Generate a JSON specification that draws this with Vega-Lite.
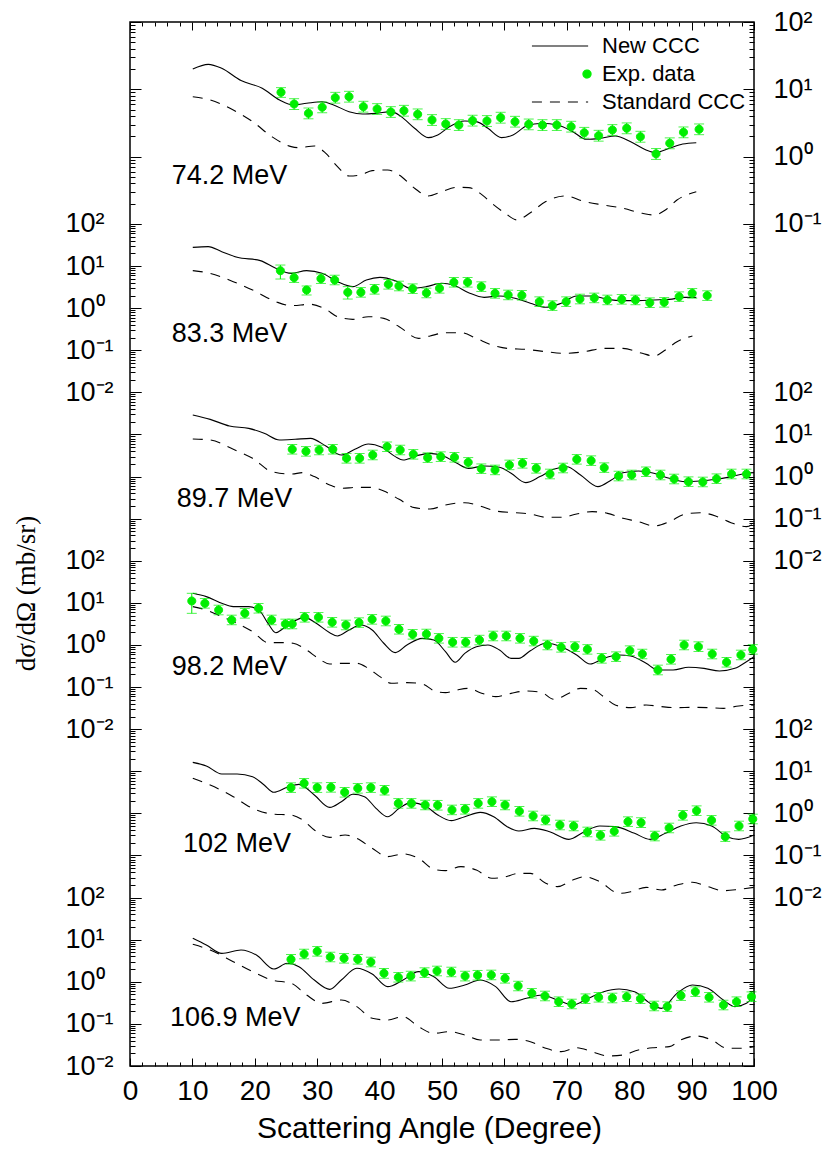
{
"$schema":"https://vega.github.io/schema/vega-lite/v6.json",
"width":624,"height":1044,
"autosize":{"type":"none"},
"padding":{"left":130,"top":22,"right":73,"bottom":83},
"background":"white",
"config":{
 "font":"Liberation Sans",
 "view":{"stroke":"black","strokeWidth":1.5},
 "axis":{"grid":false,"domain":false,"ticks":true,"tickColor":"black","tickWidth":1,"labelColor":"black","labelFont":"Liberation Sans","labelFontSize":27,"titleColor":"black","titleFontWeight":"normal","labelOverlap":false}
},
"datasets":{
"n1":[{"a":10.06,"v":20.0},{"a":12.54,"v":23.5},{"a":14.7,"v":20.5},{"a":17.79,"v":13.5},{"a":21.19,"v":10.4},{"a":23.97,"v":6.95},{"a":26.14,"v":5.85},{"a":28.3,"v":6.2},{"a":30.78,"v":6.55},{"a":32.63,"v":5.85},{"a":35.1,"v":4.66},{"a":37.27,"v":4.3},{"a":39.43,"v":4.4},{"a":41.9,"v":4.66},{"a":43.45,"v":3.93},{"a":45.61,"v":2.64},{"a":47.78,"v":1.92},{"a":49.32,"v":2.1},{"a":51.18,"v":2.79},{"a":53.65,"v":3.39},{"a":55.51,"v":3.31},{"a":57.36,"v":2.64},{"a":59.52,"v":1.92},{"a":61.38,"v":2.1},{"a":63.54,"v":2.85},{"a":66.02,"v":3.13},{"a":68.49,"v":2.95},{"a":70.96,"v":2.35},{"a":73.13,"v":1.81},{"a":75.29,"v":1.87},{"a":77.76,"v":2.03},{"a":80.24,"v":1.67},{"a":82.71,"v":1.26},{"a":84.26,"v":1.15},{"a":86.42,"v":1.33},{"a":88.58,"v":1.54},{"a":90.75,"v":1.61}],
"s1":[{"a":10.06,"v":7.78},{"a":12.85,"v":6.95},{"a":16.55,"v":4.93},{"a":19.65,"v":3.31},{"a":22.74,"v":1.98},{"a":25.83,"v":1.41},{"a":27.07,"v":1.36},{"a":29.54,"v":1.44},{"a":31.39,"v":1.12},{"a":33.25,"v":0.711},{"a":35.1,"v":0.517},{"a":36.96,"v":0.535},{"a":38.81,"v":0.62},{"a":41.29,"v":0.634},{"a":43.14,"v":0.535},{"a":45.61,"v":0.339},{"a":47.78,"v":0.261},{"a":49.94,"v":0.302},{"a":52.41,"v":0.351},{"a":54.27,"v":0.347},{"a":56.12,"v":0.285},{"a":57.98,"v":0.203},{"a":60.14,"v":0.144},{"a":62.0,"v":0.115},{"a":64.16,"v":0.147},{"a":66.63,"v":0.215},{"a":69.72,"v":0.261},{"a":72.82,"v":0.215},{"a":75.91,"v":0.191},{"a":79.0,"v":0.171},{"a":82.09,"v":0.144},{"a":83.95,"v":0.136},{"a":85.8,"v":0.161},{"a":87.66,"v":0.227},{"a":90.75,"v":0.302}],
"e1":[{"a":24.2,"v":9.03,"lo":7.6,"hi":10.6},{"a":26.3,"v":6.05,"lo":5.02,"hi":7.26},{"a":28.6,"v":4.4,"lo":3.65,"hi":5.28},{"a":30.8,"v":5.41,"lo":4.49,"hi":6.49},{"a":32.9,"v":7.52,"lo":6.24,"hi":9.02},{"a":35.1,"v":7.78,"lo":6.46,"hi":9.34},{"a":37.4,"v":5.53,"lo":4.59,"hi":6.64},{"a":39.6,"v":5.11,"lo":4.24,"hi":6.13},{"a":41.8,"v":4.61,"lo":3.83,"hi":5.53},{"a":43.9,"v":4.82,"lo":4.0,"hi":5.78},{"a":46.1,"v":4.26,"lo":3.54,"hi":5.11},{"a":48.4,"v":3.51,"lo":2.91,"hi":4.21},{"a":50.6,"v":3.06,"lo":2.54,"hi":3.67},{"a":52.7,"v":2.95,"lo":2.45,"hi":3.54},{"a":54.9,"v":3.43,"lo":2.85,"hi":4.12},{"a":57.2,"v":3.39,"lo":2.81,"hi":4.07},{"a":59.4,"v":3.8,"lo":3.15,"hi":4.56},{"a":61.7,"v":3.31,"lo":2.75,"hi":3.97},{"a":63.9,"v":3.02,"lo":2.51,"hi":3.62},{"a":66.1,"v":2.95,"lo":2.45,"hi":3.54},{"a":68.4,"v":2.95,"lo":2.45,"hi":3.54},{"a":70.7,"v":2.79,"lo":2.32,"hi":3.35},{"a":72.8,"v":2.27,"lo":1.88,"hi":2.72},{"a":75.1,"v":2.05,"lo":1.7,"hi":2.46},{"a":77.3,"v":2.49,"lo":2.07,"hi":2.99},{"a":79.6,"v":2.64,"lo":2.19,"hi":3.17},{"a":81.8,"v":1.98,"lo":1.64,"hi":2.38},{"a":84.3,"v":1.1,"lo":0.91,"hi":1.32},{"a":86.5,"v":1.58,"lo":1.31,"hi":1.9},{"a":88.7,"v":2.3,"lo":1.91,"hi":2.76},{"a":91.2,"v":2.55,"lo":2.12,"hi":3.06}],
"n2":[{"a":10.06,"v":27.9},{"a":12.54,"v":29.0},{"a":14.7,"v":22.0},{"a":17.17,"v":16.2},{"a":20.88,"v":13.5},{"a":23.36,"v":8.85},{"a":25.83,"v":6.73},{"a":28.3,"v":7.79},{"a":30.78,"v":6.73},{"a":33.25,"v":4.27},{"a":35.72,"v":3.25},{"a":37.88,"v":4.67},{"a":40.05,"v":5.41},{"a":42.52,"v":4.5},{"a":44.99,"v":2.96},{"a":47.47,"v":3.25},{"a":49.94,"v":3.9},{"a":51.8,"v":3.56},{"a":54.27,"v":2.34},{"a":56.74,"v":1.81},{"a":59.22,"v":1.95},{"a":61.69,"v":1.72},{"a":64.16,"v":1.31},{"a":66.63,"v":1.05},{"a":69.11,"v":1.31},{"a":71.58,"v":1.95},{"a":74.05,"v":1.95},{"a":76.53,"v":1.62},{"a":79.0,"v":1.51},{"a":81.47,"v":1.51},{"a":83.95,"v":1.57},{"a":86.42,"v":1.62},{"a":88.89,"v":1.81},{"a":90.75,"v":1.81}],
"s2":[{"a":10.06,"v":7.79},{"a":12.85,"v":6.73},{"a":16.55,"v":4.27},{"a":19.65,"v":2.71},{"a":23.36,"v":1.43},{"a":25.83,"v":1.15},{"a":28.92,"v":1.24},{"a":31.39,"v":0.94},{"a":33.25,"v":0.629},{"a":35.72,"v":0.544},{"a":38.19,"v":0.629},{"a":40.67,"v":0.574},{"a":43.14,"v":0.364},{"a":46.23,"v":0.192},{"a":48.09,"v":0.219},{"a":50.56,"v":0.262},{"a":53.03,"v":0.262},{"a":55.51,"v":0.192},{"a":57.98,"v":0.134},{"a":60.45,"v":0.111},{"a":63.54,"v":0.105},{"a":66.63,"v":0.0928},{"a":69.72,"v":0.0847},{"a":72.82,"v":0.0928},{"a":75.91,"v":0.111},{"a":79.0,"v":0.111},{"a":82.09,"v":0.0847},{"a":83.95,"v":0.0732},{"a":85.8,"v":0.1017},{"a":87.66,"v":0.16},{"a":90.13,"v":0.219}],
"e2":[{"a":24.1,"v":7.79,"lo":4.93,"hi":10.6},{"a":26.3,"v":5.31,"lo":4.09,"hi":6.9},{"a":28.3,"v":2.71,"lo":2.06,"hi":3.37},{"a":30.6,"v":5.03,"lo":3.87,"hi":6.54},{"a":32.8,"v":4.67,"lo":3.6,"hi":6.07},{"a":34.9,"v":2.38,"lo":1.65,"hi":3.25},{"a":37.0,"v":2.38,"lo":1.83,"hi":3.09},{"a":39.2,"v":2.81,"lo":2.16,"hi":3.65},{"a":41.4,"v":3.69,"lo":2.84,"hi":4.8},{"a":43.1,"v":3.37,"lo":2.59,"hi":4.38},{"a":45.3,"v":2.91,"lo":2.24,"hi":3.78},{"a":47.5,"v":2.3,"lo":1.77,"hi":2.99},{"a":49.6,"v":2.96,"lo":2.28,"hi":3.85},{"a":51.9,"v":4.12,"lo":3.17,"hi":5.36},{"a":54.1,"v":4.12,"lo":3.17,"hi":5.36},{"a":56.3,"v":3.25,"lo":2.5,"hi":4.23},{"a":58.5,"v":2.25,"lo":1.73,"hi":2.93},{"a":60.6,"v":2.06,"lo":1.59,"hi":2.68},{"a":62.8,"v":2.02,"lo":1.56,"hi":2.63},{"a":65.6,"v":1.43,"lo":1.1,"hi":1.86},{"a":67.7,"v":1.15,"lo":0.886,"hi":1.5},{"a":69.9,"v":1.43,"lo":1.1,"hi":1.86},{"a":72.1,"v":1.65,"lo":1.27,"hi":2.15},{"a":74.4,"v":1.75,"lo":1.35,"hi":2.28},{"a":76.5,"v":1.57,"lo":1.21,"hi":2.04},{"a":78.8,"v":1.62,"lo":1.25,"hi":2.11},{"a":81.0,"v":1.57,"lo":1.21,"hi":2.04},{"a":83.3,"v":1.35,"lo":1.04,"hi":1.76},{"a":85.6,"v":1.38,"lo":1.06,"hi":1.79},{"a":88.0,"v":1.88,"lo":1.45,"hi":2.44},{"a":90.1,"v":2.25,"lo":1.73,"hi":2.93},{"a":92.5,"v":1.99,"lo":1.53,"hi":2.59}],
"n3":[{"a":10.06,"v":29.0},{"a":12.85,"v":22.9},{"a":15.94,"v":15.9},{"a":19.03,"v":14.0},{"a":21.5,"v":10.7},{"a":23.97,"v":7.4},{"a":26.45,"v":7.68},{"a":28.92,"v":8.11},{"a":31.39,"v":5.33},{"a":33.87,"v":3.26},{"a":36.03,"v":4.45},{"a":38.19,"v":5.95},{"a":40.36,"v":4.95},{"a":42.52,"v":2.98},{"a":43.76,"v":2.48},{"a":45.92,"v":3.14},{"a":48.09,"v":3.57},{"a":50.25,"v":3.09},{"a":52.41,"v":2.07},{"a":54.27,"v":1.57},{"a":56.74,"v":1.79},{"a":59.22,"v":1.66},{"a":61.07,"v":1.2},{"a":63.42,"v":0.718},{"a":65.71,"v":1.0},{"a":67.87,"v":1.49},{"a":70.03,"v":1.72},{"a":72.2,"v":1.09},{"a":74.98,"v":0.577},{"a":77.14,"v":0.83},{"a":79.0,"v":1.24},{"a":81.47,"v":1.36},{"a":83.95,"v":1.2},{"a":86.42,"v":0.909},{"a":88.89,"v":0.758},{"a":91.37,"v":0.787},{"a":93.84,"v":0.862},{"a":96.31,"v":1.0},{"a":98.79,"v":1.2},{"a":100,"v":1.24}],
"s3":[{"a":10.06,"v":7.82},{"a":12.85,"v":7.4},{"a":16.55,"v":4.45},{"a":19.65,"v":2.72},{"a":22.74,"v":1.31},{"a":25.83,"v":1.15},{"a":27.68,"v":1.24},{"a":29.54,"v":1.0},{"a":32.01,"v":0.632},{"a":33.87,"v":0.526},{"a":36.34,"v":0.556},{"a":38.5,"v":0.556},{"a":40.67,"v":0.455},{"a":43.14,"v":0.288},{"a":45.61,"v":0.183},{"a":48.09,"v":0.17},{"a":50.56,"v":0.212},{"a":53.65,"v":0.24},{"a":56.12,"v":0.2},{"a":58.6,"v":0.152},{"a":61.69,"v":0.139},{"a":64.16,"v":0.129},{"a":66.63,"v":0.108},{"a":69.11,"v":0.108},{"a":71.58,"v":0.129},{"a":74.05,"v":0.147},{"a":76.53,"v":0.134},{"a":79.0,"v":0.102},{"a":81.47,"v":0.0851},{"a":83.95,"v":0.0671},{"a":86.42,"v":0.0851},{"a":88.89,"v":0.127},{"a":91.37,"v":0.139},{"a":93.84,"v":0.116},{"a":96.31,"v":0.0805},{"a":98.79,"v":0.0647},{"a":100,"v":0.0777}],
"e3":[{"a":26.0,"v":4.45,"lo":3.43,"hi":5.79},{"a":28.2,"v":3.98,"lo":3.06,"hi":5.17},{"a":30.3,"v":4.28,"lo":3.3,"hi":5.56},{"a":32.5,"v":4.45,"lo":3.43,"hi":5.79},{"a":34.7,"v":2.72,"lo":2.09,"hi":3.54},{"a":36.8,"v":2.72,"lo":2.09,"hi":3.54},{"a":38.9,"v":3.26,"lo":2.51,"hi":4.24},{"a":41.2,"v":5.14,"lo":3.96,"hi":6.68},{"a":43.3,"v":4.28,"lo":3.3,"hi":5.56},{"a":45.4,"v":3.38,"lo":2.6,"hi":4.39},{"a":47.7,"v":2.82,"lo":2.17,"hi":3.67},{"a":49.8,"v":2.98,"lo":2.29,"hi":3.87},{"a":52.0,"v":2.87,"lo":2.21,"hi":3.73},{"a":54.2,"v":2.18,"lo":1.68,"hi":2.83},{"a":56.3,"v":1.54,"lo":1.19,"hi":2.0},{"a":58.5,"v":1.44,"lo":1.11,"hi":1.87},{"a":60.8,"v":1.89,"lo":1.46,"hi":2.46},{"a":62.9,"v":2.07,"lo":1.59,"hi":2.69},{"a":65.1,"v":1.57,"lo":1.21,"hi":2.04},{"a":67.3,"v":1.15,"lo":0.886,"hi":1.5},{"a":69.4,"v":1.6,"lo":1.23,"hi":2.08},{"a":71.6,"v":2.57,"lo":1.98,"hi":3.34},{"a":73.9,"v":2.39,"lo":1.84,"hi":3.11},{"a":76.0,"v":1.63,"lo":1.26,"hi":2.12},{"a":78.3,"v":1.03,"lo":0.793,"hi":1.34},{"a":80.4,"v":1.09,"lo":0.839,"hi":1.42},{"a":82.7,"v":1.31,"lo":1.01,"hi":1.7},{"a":85.0,"v":1.09,"lo":0.839,"hi":1.42},{"a":87.2,"v":0.877,"lo":0.675,"hi":1.14},{"a":89.5,"v":0.758,"lo":0.584,"hi":0.985},{"a":91.8,"v":0.745,"lo":0.574,"hi":0.969},{"a":94.0,"v":0.893,"lo":0.688,"hi":1.16},{"a":96.4,"v":1.15,"lo":0.886,"hi":1.5},{"a":98.8,"v":1.15,"lo":0.886,"hi":1.5}],
"n4":[{"a":10.06,"v":16.9},{"a":12.23,"v":14.1},{"a":14.7,"v":9.77},{"a":16.55,"v":8.15},{"a":19.03,"v":8.15},{"a":20.88,"v":6.19},{"a":22.12,"v":3.27},{"a":23.36,"v":1.96},{"a":24.59,"v":2.49},{"a":26.14,"v":3.58},{"a":27.99,"v":4.54},{"a":29.85,"v":3.27},{"a":32.01,"v":1.96},{"a":33.25,"v":1.64},{"a":35.1,"v":2.27},{"a":36.96,"v":2.98},{"a":38.81,"v":2.27},{"a":40.67,"v":1.1},{"a":42.52,"v":0.658},{"a":44.38,"v":1.0},{"a":46.85,"v":1.44},{"a":48.7,"v":1.31},{"a":50.56,"v":0.695},{"a":52.11,"v":0.388},{"a":53.65,"v":0.634},{"a":55.51,"v":0.912},{"a":57.36,"v":1.0},{"a":59.22,"v":0.76},{"a":61.07,"v":0.482},{"a":62.31,"v":0.482},{"a":64.16,"v":0.733},{"a":66.63,"v":1.1},{"a":69.11,"v":0.912},{"a":71.58,"v":0.579},{"a":73.74,"v":0.354},{"a":75.91,"v":0.482},{"a":78.38,"v":0.579},{"a":80.24,"v":0.548},{"a":82.71,"v":0.367},{"a":84.57,"v":0.255},{"a":87.04,"v":0.255},{"a":89.51,"v":0.295},{"a":91.98,"v":0.279},{"a":94.46,"v":0.241},{"a":96.93,"v":0.279},{"a":98.79,"v":0.402},{"a":100,"v":0.528}],
"s4":[{"a":10.06,"v":8.15},{"a":12.23,"v":6.78},{"a":14.7,"v":4.71},{"a":17.17,"v":3.27},{"a":19.65,"v":2.07},{"a":22.12,"v":1.14},{"a":23.97,"v":1.14},{"a":26.14,"v":1.1},{"a":28.3,"v":0.76},{"a":30.16,"v":0.482},{"a":32.01,"v":0.354},{"a":33.87,"v":0.367},{"a":36.34,"v":0.367},{"a":38.19,"v":0.279},{"a":40.05,"v":0.177},{"a":41.9,"v":0.123},{"a":44.38,"v":0.128},{"a":46.85,"v":0.119},{"a":48.7,"v":0.0823},{"a":50.56,"v":0.0738},{"a":52.41,"v":0.0853},{"a":54.27,"v":0.0935},{"a":56.12,"v":0.0738},{"a":58.6,"v":0.0593},{"a":61.07,"v":0.0711},{"a":63.54,"v":0.0809},{"a":66.02,"v":0.0738},{"a":67.87,"v":0.0513},{"a":70.34,"v":0.0711},{"a":72.2,"v":0.0935},{"a":74.05,"v":0.0885},{"a":75.91,"v":0.0593},{"a":77.76,"v":0.0376},{"a":80.24,"v":0.0325},{"a":82.71,"v":0.0376},{"a":85.18,"v":0.0343},{"a":87.66,"v":0.0325},{"a":90.13,"v":0.0331},{"a":92.6,"v":0.0325},{"a":95.08,"v":0.0313},{"a":97.55,"v":0.0356},{"a":100,"v":0.0376}],
"e4":[{"a":9.9,"v":11.1,"lo":5.65,"hi":16.9},{"a":12.0,"v":9.77,"lo":7.52,"hi":12.7},{"a":14.2,"v":6.78,"lo":5.22,"hi":8.81},{"a":16.3,"v":3.93,"lo":3.03,"hi":5.11},{"a":18.4,"v":5.65,"lo":4.35,"hi":7.35},{"a":20.6,"v":7.43,"lo":5.72,"hi":9.66},{"a":22.7,"v":3.93,"lo":3.03,"hi":5.11},{"a":24.9,"v":3.16,"lo":2.43,"hi":4.11},{"a":26.0,"v":3.16,"lo":2.43,"hi":4.11},{"a":28.0,"v":4.54,"lo":3.5,"hi":5.9},{"a":30.2,"v":4.54,"lo":3.5,"hi":5.9},{"a":32.4,"v":3.46,"lo":2.66,"hi":4.5},{"a":34.6,"v":2.99,"lo":2.3,"hi":3.89},{"a":36.7,"v":3.4,"lo":2.62,"hi":4.42},{"a":38.8,"v":4.07,"lo":3.13,"hi":5.29},{"a":41.0,"v":3.72,"lo":2.86,"hi":4.84},{"a":43.1,"v":2.36,"lo":1.82,"hi":3.07},{"a":45.3,"v":1.79,"lo":1.38,"hi":2.33},{"a":47.5,"v":1.82,"lo":1.4,"hi":2.37},{"a":49.5,"v":1.44,"lo":1.11,"hi":1.87},{"a":51.7,"v":1.16,"lo":0.893,"hi":1.51},{"a":53.8,"v":1.16,"lo":0.893,"hi":1.51},{"a":56.0,"v":1.31,"lo":1.01,"hi":1.7},{"a":58.2,"v":1.64,"lo":1.26,"hi":2.13},{"a":60.3,"v":1.64,"lo":1.26,"hi":2.13},{"a":62.5,"v":1.44,"lo":1.11,"hi":1.87},{"a":64.7,"v":1.24,"lo":0.955,"hi":1.61},{"a":66.9,"v":1.0,"lo":0.77,"hi":1.3},{"a":69.1,"v":0.881,"lo":0.678,"hi":1.15},{"a":71.3,"v":0.912,"lo":0.702,"hi":1.19},{"a":73.3,"v":0.788,"lo":0.607,"hi":1.02},{"a":75.6,"v":0.482,"lo":0.371,"hi":0.627},{"a":77.9,"v":0.528,"lo":0.407,"hi":0.686},{"a":80.1,"v":0.733,"lo":0.564,"hi":0.953},{"a":82.1,"v":0.611,"lo":0.47,"hi":0.794},{"a":84.6,"v":0.255,"lo":0.196,"hi":0.332},{"a":86.7,"v":0.457,"lo":0.352,"hi":0.594},{"a":88.8,"v":1.0,"lo":0.77,"hi":1.3},{"a":91.1,"v":0.912,"lo":0.702,"hi":1.19},{"a":93.3,"v":0.611,"lo":0.47,"hi":0.794},{"a":95.6,"v":0.388,"lo":0.299,"hi":0.504},{"a":97.9,"v":0.579,"lo":0.446,"hi":0.753},{"a":99.8,"v":0.788,"lo":0.607,"hi":1.02}],
"n5":[{"a":10.06,"v":16.3},{"a":12.23,"v":13.4},{"a":14.7,"v":8.63},{"a":17.17,"v":8.63},{"a":19.65,"v":7.46},{"a":21.5,"v":4.73},{"a":23.05,"v":3.17},{"a":25.21,"v":4.16},{"a":27.07,"v":4.9},{"a":29.54,"v":2.74},{"a":32.01,"v":1.39},{"a":33.87,"v":1.9},{"a":35.72,"v":2.84},{"a":37.58,"v":2.5},{"a":39.43,"v":1.32},{"a":41.29,"v":0.835},{"a":43.14,"v":1.32},{"a":44.99,"v":1.8},{"a":47.47,"v":1.45},{"a":49.32,"v":0.916},{"a":51.49,"v":0.672},{"a":53.65,"v":0.835},{"a":56.12,"v":1.06},{"a":58.29,"v":0.835},{"a":60.45,"v":0.484},{"a":62.31,"v":0.382},{"a":64.78,"v":0.442},{"a":67.25,"v":0.368},{"a":70.34,"v":0.242},{"a":72.82,"v":0.368},{"a":75.29,"v":0.502},{"a":77.76,"v":0.484},{"a":80.86,"v":0.336},{"a":83.33,"v":0.242},{"a":85.8,"v":0.336},{"a":88.27,"v":0.502},{"a":90.75,"v":0.602},{"a":93.22,"v":0.502},{"a":95.69,"v":0.28},{"a":97.55,"v":0.242},{"a":100,"v":0.307}],
"s5":[{"a":10.06,"v":6.81},{"a":12.85,"v":4.73},{"a":16.55,"v":2.5},{"a":19.65,"v":1.32},{"a":22.74,"v":0.968},{"a":25.83,"v":0.916},{"a":27.68,"v":0.697},{"a":29.54,"v":0.403},{"a":32.01,"v":0.27},{"a":34.48,"v":0.307},{"a":36.34,"v":0.256},{"a":38.81,"v":0.148},{"a":41.29,"v":0.0938},{"a":43.76,"v":0.109},{"a":46.23,"v":0.0857},{"a":48.7,"v":0.047},{"a":50.56,"v":0.0437},{"a":53.03,"v":0.0543},{"a":55.51,"v":0.0453},{"a":57.98,"v":0.0287},{"a":59.83,"v":0.0303},{"a":62.31,"v":0.0377},{"a":64.16,"v":0.0377},{"a":66.63,"v":0.0218},{"a":68.49,"v":0.0182},{"a":70.96,"v":0.0262},{"a":72.82,"v":0.0314},{"a":75.29,"v":0.0239},{"a":78.38,"v":0.0126},{"a":80.24,"v":0.0138},{"a":82.71,"v":0.0175},{"a":85.18,"v":0.0152},{"a":87.66,"v":0.0199},{"a":90.13,"v":0.0231},{"a":92.6,"v":0.0182},{"a":95.08,"v":0.0146},{"a":97.55,"v":0.0157},{"a":100,"v":0.0175}],
"e5":[{"a":25.8,"v":4.09,"lo":3.15,"hi":5.32},{"a":27.9,"v":5.18,"lo":3.99,"hi":6.73},{"a":30.0,"v":4.09,"lo":3.15,"hi":5.32},{"a":32.2,"v":4.16,"lo":3.2,"hi":5.41},{"a":34.4,"v":3.17,"lo":2.44,"hi":4.12},{"a":36.5,"v":3.94,"lo":3.03,"hi":5.12},{"a":38.6,"v":4.09,"lo":3.15,"hi":5.32},{"a":40.8,"v":3.53,"lo":2.72,"hi":4.59},{"a":43.0,"v":1.73,"lo":1.33,"hi":2.25},{"a":45.1,"v":1.73,"lo":1.33,"hi":2.25},{"a":47.3,"v":1.58,"lo":1.22,"hi":2.05},{"a":49.3,"v":1.56,"lo":1.2,"hi":2.03},{"a":51.6,"v":1.21,"lo":0.932,"hi":1.57},{"a":53.7,"v":1.25,"lo":0.963,"hi":1.63},{"a":55.8,"v":1.73,"lo":1.33,"hi":2.25},{"a":58.0,"v":1.9,"lo":1.46,"hi":2.47},{"a":60.1,"v":1.58,"lo":1.22,"hi":2.05},{"a":62.4,"v":1.12,"lo":0.862,"hi":1.46},{"a":64.6,"v":0.867,"lo":0.668,"hi":1.13},{"a":66.6,"v":0.697,"lo":0.537,"hi":0.906},{"a":68.9,"v":0.53,"lo":0.408,"hi":0.689},{"a":71.1,"v":0.502,"lo":0.387,"hi":0.653},{"a":73.3,"v":0.362,"lo":0.279,"hi":0.471},{"a":75.4,"v":0.301,"lo":0.232,"hi":0.391},{"a":77.6,"v":0.375,"lo":0.289,"hi":0.488},{"a":79.8,"v":0.637,"lo":0.49,"hi":0.828},{"a":81.9,"v":0.602,"lo":0.464,"hi":0.783},{"a":84.1,"v":0.29,"lo":0.223,"hi":0.377},{"a":86.4,"v":0.45,"lo":0.347,"hi":0.585},{"a":88.6,"v":0.899,"lo":0.692,"hi":1.17},{"a":90.8,"v":1.16,"lo":0.893,"hi":1.51},{"a":93.2,"v":0.684,"lo":0.527,"hi":0.889},{"a":95.4,"v":0.28,"lo":0.216,"hi":0.364},{"a":97.6,"v":0.502,"lo":0.387,"hi":0.653},{"a":99.8,"v":0.736,"lo":0.567,"hi":0.957}],
"n6":[{"a":10.06,"v":10.8},{"a":12.23,"v":7.48},{"a":14.7,"v":4.74},{"a":17.79,"v":5.69},{"a":20.26,"v":4.33},{"a":23.05,"v":2.01},{"a":25.21,"v":2.75},{"a":27.07,"v":2.29},{"a":29.54,"v":1.1},{"a":32.01,"v":0.662},{"a":33.87,"v":1.1},{"a":36.34,"v":2.09},{"a":38.81,"v":1.53},{"a":41.29,"v":0.766},{"a":43.76,"v":1.1},{"a":46.23,"v":1.74},{"a":48.7,"v":1.32},{"a":51.18,"v":0.7},{"a":53.65,"v":0.839},{"a":56.12,"v":1.1},{"a":58.6,"v":0.766},{"a":61.07,"v":0.337},{"a":63.54,"v":0.405},{"a":66.02,"v":0.486},{"a":68.49,"v":0.37},{"a":70.96,"v":0.281},{"a":73.44,"v":0.405},{"a":75.91,"v":0.583},{"a":78.38,"v":0.675},{"a":80.86,"v":0.583},{"a":83.33,"v":0.308},{"a":85.18,"v":0.234},{"a":87.66,"v":0.532},{"a":90.13,"v":0.839},{"a":92.6,"v":0.7},{"a":95.08,"v":0.37},{"a":96.93,"v":0.257},{"a":98.79,"v":0.308},{"a":100,"v":0.486}],
"s6":[{"a":10.06,"v":7.76},{"a":12.85,"v":5.69},{"a":16.55,"v":3.01},{"a":19.65,"v":1.74},{"a":22.74,"v":1.1},{"a":25.83,"v":0.92},{"a":28.3,"v":0.486},{"a":30.78,"v":0.308},{"a":33.87,"v":0.37},{"a":36.34,"v":0.257},{"a":38.81,"v":0.136},{"a":41.29,"v":0.124},{"a":43.76,"v":0.149},{"a":46.23,"v":0.086},{"a":48.7,"v":0.0597},{"a":51.18,"v":0.0654},{"a":53.65,"v":0.0545},{"a":56.12,"v":0.0415},{"a":59.22,"v":0.0415},{"a":61.69,"v":0.043},{"a":64.16,"v":0.0378},{"a":66.63,"v":0.0263},{"a":69.11,"v":0.0219},{"a":71.58,"v":0.0272},{"a":74.05,"v":0.0219},{"a":76.53,"v":0.0173},{"a":79.0,"v":0.0182},{"a":81.47,"v":0.024},{"a":83.95,"v":0.0272},{"a":86.42,"v":0.0288},{"a":88.27,"v":0.0415},{"a":90.75,"v":0.0516},{"a":93.22,"v":0.0415},{"a":95.69,"v":0.0263},{"a":98.17,"v":0.0263},{"a":100,"v":0.0288}],
"e6":[{"a":25.8,"v":3.42,"lo":2.63,"hi":4.45},{"a":27.9,"v":4.57,"lo":3.52,"hi":5.94},{"a":30.0,"v":5.29,"lo":4.07,"hi":6.88},{"a":32.1,"v":3.88,"lo":2.99,"hi":5.04},{"a":34.3,"v":3.61,"lo":2.78,"hi":4.69},{"a":36.5,"v":3.42,"lo":2.63,"hi":4.45},{"a":38.6,"v":2.95,"lo":2.27,"hi":3.84},{"a":40.7,"v":1.59,"lo":1.22,"hi":2.07},{"a":43.0,"v":1.28,"lo":0.986,"hi":1.66},{"a":45.0,"v":1.37,"lo":1.05,"hi":1.78},{"a":47.2,"v":1.65,"lo":1.27,"hi":2.15},{"a":49.2,"v":1.81,"lo":1.39,"hi":2.35},{"a":51.5,"v":1.71,"lo":1.32,"hi":2.22},{"a":53.7,"v":1.37,"lo":1.05,"hi":1.78},{"a":55.7,"v":1.43,"lo":1.1,"hi":1.86},{"a":57.9,"v":1.45,"lo":1.12,"hi":1.89},{"a":60.1,"v":1.21,"lo":0.932,"hi":1.57},{"a":62.2,"v":0.795,"lo":0.612,"hi":1.03},{"a":64.4,"v":0.532,"lo":0.41,"hi":0.692},{"a":66.5,"v":0.46,"lo":0.354,"hi":0.598},{"a":68.7,"v":0.337,"lo":0.259,"hi":0.438},{"a":70.8,"v":0.297,"lo":0.229,"hi":0.386},{"a":73.0,"v":0.397,"lo":0.306,"hi":0.516},{"a":75.1,"v":0.428,"lo":0.33,"hi":0.556},{"a":77.3,"v":0.412,"lo":0.317,"hi":0.536},{"a":79.6,"v":0.443,"lo":0.341,"hi":0.576},{"a":81.8,"v":0.397,"lo":0.306,"hi":0.516},{"a":84.0,"v":0.266,"lo":0.205,"hi":0.346},{"a":86.1,"v":0.257,"lo":0.198,"hi":0.334},{"a":88.3,"v":0.469,"lo":0.361,"hi":0.61},{"a":90.6,"v":0.583,"lo":0.449,"hi":0.758},{"a":92.8,"v":0.428,"lo":0.33,"hi":0.556},{"a":95.1,"v":0.281,"lo":0.216,"hi":0.365},{"a":97.2,"v":0.337,"lo":0.259,"hi":0.438},{"a":99.6,"v":0.443,"lo":0.341,"hi":0.576}],
"lab":[{"p":1,"a":6.7,"v":0.516,"t":"74.2 MeV"},{"p":2,"a":6.7,"v":0.24,"t":"83.3 MeV"},{"p":3,"a":7.5,"v":0.294,"t":"89.7 MeV"},{"p":4,"a":6.7,"v":0.305,"t":"98.2 MeV"},{"p":5,"a":8.5,"v":0.1875,"t":"102 MeV"},{"p":6,"a":6.4,"v":0.138,"t":"106.9 MeV"}]
},
"layer":[
{"layer":[
 {"data":{"name":"n1"},"mark":{"type":"line","color":"black","strokeWidth":1.1,"interpolate":"monotone"},
  "encoding":{"x":{"field":"a","type":"quantitative","scale":{"domain":[0,100],"nice":false},"axis":{"orient":"bottom","values":[0,10,20,30,40,50,60,70,80,90,100],"tickSize":-8,"labelPadding":19,"labelFontSize":28,"labelFlush":false,"title":"Scattering Angle (Degree)","titleFontSize":30,"titleX":299,"titleY":71,"titleBaseline":"alphabetic","titleAlign":"center"}},
   "y":{"field":"v","type":"quantitative","scale":{"type":"log","domain":[3.12e-14,100],"nice":false},"axis":{"orient":"left","values":[0.1,1,10,100],"tickSize":-11,"labels":false,"title":null}}}},
 {"data":{"name":"s1"},"mark":{"type":"line","color":"black","strokeWidth":1.1,"strokeDash":[10,8],"interpolate":"monotone"},
  "encoding":{"x":{"field":"a","type":"quantitative","scale":{"domain":[0,100],"nice":false},"axis":{"orient":"bottom","values":[2,4,6,8,12,14,16,18,22,24,26,28,32,34,36,38,42,44,46,48,52,54,56,58,62,64,66,68,72,74,76,78,82,84,86,88,92,94,96,98],"tickSize":-4,"labels":false,"title":null}},
   "y":{"field":"v","type":"quantitative","scale":{"type":"log","domain":[3.12e-14,100],"nice":false},"axis":{"orient":"left","values":[0.2,0.3,0.4,0.5,0.6,0.7,0.8,0.9,2,3,4,5,6,7,8,9,20,30,40,50,60,70,80,90],"tickSize":-5,"labels":false,"title":null}}}},
 {"data":{"name":"e1"},"mark":{"type":"errorbar","color":"#00ee00","ticks":{"size":10}},
  "encoding":{"x":{"field":"a","type":"quantitative","scale":{"domain":[0,100],"nice":false},"axis":null},
   "y":{"field":"lo","type":"quantitative","scale":{"type":"log","domain":[3.12e-14,100],"nice":false},"axis":null},"y2":{"field":"hi"}}},
 {"data":{"name":"e1"},"mark":{"type":"point","filled":true,"opacity":1,"size":125,"strokeWidth":1},
  "encoding":{"x":{"field":"a","type":"quantitative","scale":{"domain":[0,100],"nice":false},"axis":{"orient":"top","values":[0,10,20,30,40,50,60,70,80,90,100],"tickSize":-8,"labels":false,"title":null}},
   "y":{"field":"v","type":"quantitative","scale":{"type":"log","domain":[3.12e-14,100],"nice":false},"axis":{"orient":"right","values":[0.1,1,10,100],"tickSize":-11,"labelPadding":30,"labelExpr":"datum.value > 50 ? '10²' : datum.value > 5 ? '10¹' : datum.value > 0.5 ? '10⁰' : datum.value > 0.05 ? '10⁻¹' : '10⁻²'","title":null}},
   "fill":{"datum":"Exp. data","type":"nominal","scale":{"domain":["New CCC","Exp. data","Standard CCC"],"range":["black","#00ee00","black"]},"legend":{"orient":"none","legendX":446,"legendY":13,"title":null,"labelFont":"Liberation Sans","labelFontSize":22,"labelColor":"black","labelOffset":4,"rowPadding":6,"padding":0,"symbolSize":125,"symbolStrokeWidth":1.2,"labelLimit":300}},
   "stroke":{"datum":"Exp. data","type":"nominal","scale":{"domain":["New CCC","Exp. data","Standard CCC"],"range":["black","#00ee00","black"]}},
   "shape":{"datum":"Exp. data","type":"nominal","scale":{"domain":["New CCC","Exp. data","Standard CCC"],"range":["M-9.85,0H0.2","M0,-0.72A0.72,0.72 0 1,1 0,0.72A0.72,0.72 0 1,1 0,-0.72Z","M-9.85,0H0.2"]}},
   "strokeDash":{"datum":"Exp. data","type":"nominal","scale":{"domain":["New CCC","Exp. data","Standard CCC"],"range":[[1,0],[1,0],[10,8]]}}}},
 {"data":{"name":"lab"},"transform":[{"filter":"datum.p == 1"}],"mark":{"type":"text","align":"left","baseline":"middle","font":"Liberation Sans","fontSize":27,"color":"black"},
  "encoding":{"x":{"field":"a","type":"quantitative","scale":{"domain":[0,100],"nice":false},"axis":{"orient":"top","values":[2,4,6,8,12,14,16,18,22,24,26,28,32,34,36,38,42,44,46,48,52,54,56,58,62,64,66,68,72,74,76,78,82,84,86,88,92,94,96,98],"tickSize":-4,"labels":false,"title":null}},
   "y":{"field":"v","type":"quantitative","scale":{"type":"log","domain":[3.12e-14,100],"nice":false},"axis":{"orient":"right","values":[0.2,0.3,0.4,0.5,0.6,0.7,0.8,0.9,2,3,4,5,6,7,8,9,20,30,40,50,60,70,80,90],"tickSize":-5,"labels":false,"title":null}},
   "text":{"field":"t"}}}
],"resolve":{"axis":{"x":"independent","y":"independent"}}},

{"layer":[
 {"data":{"name":"n2"},"mark":{"type":"line","color":"black","strokeWidth":1.1,"interpolate":"monotone"},
  "encoding":{"x":{"field":"a","type":"quantitative","scale":{"domain":[0,100],"nice":false},"axis":null},
   "y":{"field":"v","type":"quantitative","scale":{"type":"log","domain":[1e-18,6.281e6],"nice":false},"axis":{"orient":"left","values":[0.01,0.1,1,10,100],"tickSize":-11,"labelPadding":76,"labelAlign":"left","labelExpr":"datum.value > 50 ? '10²' : datum.value > 5 ? '10¹' : datum.value > 0.5 ? '10⁰' : datum.value > 0.05 ? '10⁻¹' : '10⁻²'","title":null}}}},
 {"data":{"name":"s2"},"mark":{"type":"line","color":"black","strokeWidth":1.1,"strokeDash":[10,8],"interpolate":"monotone"},
  "encoding":{"x":{"field":"a","type":"quantitative","scale":{"domain":[0,100],"nice":false},"axis":null},
   "y":{"field":"v","type":"quantitative","scale":{"type":"log","domain":[1e-18,6.281e6],"nice":false},"axis":{"orient":"left","values":[0.02,0.03,0.04,0.05,0.06,0.07,0.08,0.09,0.2,0.3,0.4,0.5,0.6,0.7,0.8,0.9,2,3,4,5,6,7,8,9,20,30,40,50,60,70,80,90],"tickSize":-5,"labels":false,"title":null}}}},
 {"data":{"name":"e2"},"mark":{"type":"errorbar","color":"#00ee00","ticks":{"size":10}},
  "encoding":{"x":{"field":"a","type":"quantitative","scale":{"domain":[0,100],"nice":false},"axis":null},
   "y":{"field":"lo","type":"quantitative","scale":{"type":"log","domain":[1e-18,6.281e6],"nice":false},"axis":null},"y2":{"field":"hi"}}},
 {"data":{"name":"e2"},"mark":{"type":"point","filled":true,"opacity":1,"size":125,"strokeWidth":1},
  "encoding":{"x":{"field":"a","type":"quantitative","scale":{"domain":[0,100],"nice":false},"axis":null},
   "y":{"field":"v","type":"quantitative","scale":{"type":"log","domain":[1e-18,6.281e6],"nice":false},"axis":{"orient":"right","values":[0.01,0.1,1,10,100],"tickSize":-11,"labels":false,"title":null}},
   "fill":{"datum":"Exp. data","type":"nominal"},
   "stroke":{"datum":"Exp. data","type":"nominal"},
   "shape":{"datum":"Exp. data","type":"nominal"},
   "strokeDash":{"datum":"Exp. data","type":"nominal"}}},
 {"data":{"name":"lab"},"transform":[{"filter":"datum.p == 2"}],"mark":{"type":"text","align":"left","baseline":"middle","font":"Liberation Sans","fontSize":27,"color":"black"},
  "encoding":{"x":{"field":"a","type":"quantitative","scale":{"domain":[0,100],"nice":false},"axis":null},
   "y":{"field":"v","type":"quantitative","scale":{"type":"log","domain":[1e-18,6.281e6],"nice":false},"axis":{"orient":"right","values":[0.02,0.03,0.04,0.05,0.06,0.07,0.08,0.09,0.2,0.3,0.4,0.5,0.6,0.7,0.8,0.9,2,3,4,5,6,7,8,9,20,30,40,50,60,70,80,90],"tickSize":-5,"labels":false,"title":null}},
   "text":{"field":"t"}}}
],"resolve":{"axis":{"x":"independent","y":"independent"}}},

{"layer":[
 {"data":{"name":"n3"},"mark":{"type":"line","color":"black","strokeWidth":1.1,"interpolate":"monotone"},
  "encoding":{"x":{"field":"a","type":"quantitative","scale":{"domain":[0,100],"nice":false},"axis":null},
   "y":{"field":"v","type":"quantitative","scale":{"type":"log","domain":[1e-14,6.281e10],"nice":false},"axis":{"orient":"left","values":[0.01,0.1,1,10,100],"tickSize":-11,"labels":false,"title":null}}}},
 {"data":{"name":"s3"},"mark":{"type":"line","color":"black","strokeWidth":1.1,"strokeDash":[10,8],"interpolate":"monotone"},
  "encoding":{"x":{"field":"a","type":"quantitative","scale":{"domain":[0,100],"nice":false},"axis":null},
   "y":{"field":"v","type":"quantitative","scale":{"type":"log","domain":[1e-14,6.281e10],"nice":false},"axis":{"orient":"left","values":[0.02,0.03,0.04,0.05,0.06,0.07,0.08,0.09,0.2,0.3,0.4,0.5,0.6,0.7,0.8,0.9,2,3,4,5,6,7,8,9,20,30,40,50,60,70,80,90],"tickSize":-5,"labels":false,"title":null}}}},
 {"data":{"name":"e3"},"mark":{"type":"errorbar","color":"#00ee00","ticks":{"size":10}},
  "encoding":{"x":{"field":"a","type":"quantitative","scale":{"domain":[0,100],"nice":false},"axis":null},
   "y":{"field":"lo","type":"quantitative","scale":{"type":"log","domain":[1e-14,6.281e10],"nice":false},"axis":null},"y2":{"field":"hi"}}},
 {"data":{"name":"e3"},"mark":{"type":"point","filled":true,"opacity":1,"size":125,"strokeWidth":1},
  "encoding":{"x":{"field":"a","type":"quantitative","scale":{"domain":[0,100],"nice":false},"axis":null},
   "y":{"field":"v","type":"quantitative","scale":{"type":"log","domain":[1e-14,6.281e10],"nice":false},"axis":{"orient":"right","values":[0.01,0.1,1,10,100],"tickSize":-11,"labelPadding":30,"labelExpr":"datum.value > 50 ? '10²' : datum.value > 5 ? '10¹' : datum.value > 0.5 ? '10⁰' : datum.value > 0.05 ? '10⁻¹' : '10⁻²'","title":null}},
   "fill":{"datum":"Exp. data","type":"nominal"},
   "stroke":{"datum":"Exp. data","type":"nominal"},
   "shape":{"datum":"Exp. data","type":"nominal"},
   "strokeDash":{"datum":"Exp. data","type":"nominal"}}},
 {"data":{"name":"lab"},"transform":[{"filter":"datum.p == 3"}],"mark":{"type":"text","align":"left","baseline":"middle","font":"Liberation Sans","fontSize":27,"color":"black"},
  "encoding":{"x":{"field":"a","type":"quantitative","scale":{"domain":[0,100],"nice":false},"axis":null},
   "y":{"field":"v","type":"quantitative","scale":{"type":"log","domain":[1e-14,6.281e10],"nice":false},"axis":{"orient":"right","values":[0.02,0.03,0.04,0.05,0.06,0.07,0.08,0.09,0.2,0.3,0.4,0.5,0.6,0.7,0.8,0.9,2,3,4,5,6,7,8,9,20,30,40,50,60,70,80,90],"tickSize":-5,"labels":false,"title":null}},
   "text":{"field":"t"}}}
],"resolve":{"axis":{"x":"independent","y":"independent"}}},

{"layer":[
 {"data":{"name":"n4"},"mark":{"type":"line","color":"black","strokeWidth":1.1,"interpolate":"monotone"},
  "encoding":{"x":{"field":"a","type":"quantitative","scale":{"domain":[0,100],"nice":false},"axis":null},
   "y":{"field":"v","type":"quantitative","scale":{"type":"log","domain":[1e-10,6.281e14],"nice":false},"axis":{"orient":"left","values":[0.01,0.1,1,10,100],"tickSize":-11,"labelPadding":76,"labelAlign":"left","labelExpr":"datum.value > 50 ? '10²' : datum.value > 5 ? '10¹' : datum.value > 0.5 ? '10⁰' : datum.value > 0.05 ? '10⁻¹' : '10⁻²'","title":"dσ/dΩ (mb/sr)","titleFont":"Liberation Serif","titleFontSize":27,"titleX":-104,"titleY":571,"titleAngle":270,"titleAlign":"center","titleBaseline":"middle"}}}},
 {"data":{"name":"s4"},"mark":{"type":"line","color":"black","strokeWidth":1.1,"strokeDash":[10,8],"interpolate":"monotone"},
  "encoding":{"x":{"field":"a","type":"quantitative","scale":{"domain":[0,100],"nice":false},"axis":null},
   "y":{"field":"v","type":"quantitative","scale":{"type":"log","domain":[1e-10,6.281e14],"nice":false},"axis":{"orient":"left","values":[0.02,0.03,0.04,0.05,0.06,0.07,0.08,0.09,0.2,0.3,0.4,0.5,0.6,0.7,0.8,0.9,2,3,4,5,6,7,8,9,20,30,40,50,60,70,80,90],"tickSize":-5,"labels":false,"title":null}}}},
 {"data":{"name":"e4"},"mark":{"type":"errorbar","color":"#00ee00","ticks":{"size":10}},
  "encoding":{"x":{"field":"a","type":"quantitative","scale":{"domain":[0,100],"nice":false},"axis":null},
   "y":{"field":"lo","type":"quantitative","scale":{"type":"log","domain":[1e-10,6.281e14],"nice":false},"axis":null},"y2":{"field":"hi"}}},
 {"data":{"name":"e4"},"mark":{"type":"point","filled":true,"opacity":1,"size":125,"strokeWidth":1},
  "encoding":{"x":{"field":"a","type":"quantitative","scale":{"domain":[0,100],"nice":false},"axis":null},
   "y":{"field":"v","type":"quantitative","scale":{"type":"log","domain":[1e-10,6.281e14],"nice":false},"axis":{"orient":"right","values":[0.01,0.1,1,10,100],"tickSize":-11,"labels":false,"title":null}},
   "fill":{"datum":"Exp. data","type":"nominal"},
   "stroke":{"datum":"Exp. data","type":"nominal"},
   "shape":{"datum":"Exp. data","type":"nominal"},
   "strokeDash":{"datum":"Exp. data","type":"nominal"}}},
 {"data":{"name":"lab"},"transform":[{"filter":"datum.p == 4"}],"mark":{"type":"text","align":"left","baseline":"middle","font":"Liberation Sans","fontSize":27,"color":"black"},
  "encoding":{"x":{"field":"a","type":"quantitative","scale":{"domain":[0,100],"nice":false},"axis":null},
   "y":{"field":"v","type":"quantitative","scale":{"type":"log","domain":[1e-10,6.281e14],"nice":false},"axis":{"orient":"right","values":[0.02,0.03,0.04,0.05,0.06,0.07,0.08,0.09,0.2,0.3,0.4,0.5,0.6,0.7,0.8,0.9,2,3,4,5,6,7,8,9,20,30,40,50,60,70,80,90],"tickSize":-5,"labels":false,"title":null}},
   "text":{"field":"t"}}}
],"resolve":{"axis":{"x":"independent","y":"independent"}}},

{"layer":[
 {"data":{"name":"n5"},"mark":{"type":"line","color":"black","strokeWidth":1.1,"interpolate":"monotone"},
  "encoding":{"x":{"field":"a","type":"quantitative","scale":{"domain":[0,100],"nice":false},"axis":null},
   "y":{"field":"v","type":"quantitative","scale":{"type":"log","domain":[1e-6,6.281e18],"nice":false},"axis":{"orient":"left","values":[0.01,0.1,1,10,100],"tickSize":-11,"labels":false,"title":null}}}},
 {"data":{"name":"s5"},"mark":{"type":"line","color":"black","strokeWidth":1.1,"strokeDash":[10,8],"interpolate":"monotone"},
  "encoding":{"x":{"field":"a","type":"quantitative","scale":{"domain":[0,100],"nice":false},"axis":null},
   "y":{"field":"v","type":"quantitative","scale":{"type":"log","domain":[1e-6,6.281e18],"nice":false},"axis":{"orient":"left","values":[0.02,0.03,0.04,0.05,0.06,0.07,0.08,0.09,0.2,0.3,0.4,0.5,0.6,0.7,0.8,0.9,2,3,4,5,6,7,8,9,20,30,40,50,60,70,80,90],"tickSize":-5,"labels":false,"title":null}}}},
 {"data":{"name":"e5"},"mark":{"type":"errorbar","color":"#00ee00","ticks":{"size":10}},
  "encoding":{"x":{"field":"a","type":"quantitative","scale":{"domain":[0,100],"nice":false},"axis":null},
   "y":{"field":"lo","type":"quantitative","scale":{"type":"log","domain":[1e-6,6.281e18],"nice":false},"axis":null},"y2":{"field":"hi"}}},
 {"data":{"name":"e5"},"mark":{"type":"point","filled":true,"opacity":1,"size":125,"strokeWidth":1},
  "encoding":{"x":{"field":"a","type":"quantitative","scale":{"domain":[0,100],"nice":false},"axis":null},
   "y":{"field":"v","type":"quantitative","scale":{"type":"log","domain":[1e-6,6.281e18],"nice":false},"axis":{"orient":"right","values":[0.01,0.1,1,10,100],"tickSize":-11,"labelPadding":30,"labelExpr":"datum.value > 50 ? '10²' : datum.value > 5 ? '10¹' : datum.value > 0.5 ? '10⁰' : datum.value > 0.05 ? '10⁻¹' : '10⁻²'","title":null}},
   "fill":{"datum":"Exp. data","type":"nominal"},
   "stroke":{"datum":"Exp. data","type":"nominal"},
   "shape":{"datum":"Exp. data","type":"nominal"},
   "strokeDash":{"datum":"Exp. data","type":"nominal"}}},
 {"data":{"name":"lab"},"transform":[{"filter":"datum.p == 5"}],"mark":{"type":"text","align":"left","baseline":"middle","font":"Liberation Sans","fontSize":27,"color":"black"},
  "encoding":{"x":{"field":"a","type":"quantitative","scale":{"domain":[0,100],"nice":false},"axis":null},
   "y":{"field":"v","type":"quantitative","scale":{"type":"log","domain":[1e-6,6.281e18],"nice":false},"axis":{"orient":"right","values":[0.02,0.03,0.04,0.05,0.06,0.07,0.08,0.09,0.2,0.3,0.4,0.5,0.6,0.7,0.8,0.9,2,3,4,5,6,7,8,9,20,30,40,50,60,70,80,90],"tickSize":-5,"labels":false,"title":null}},
   "text":{"field":"t"}}}
],"resolve":{"axis":{"x":"independent","y":"independent"}}},

{"layer":[
 {"data":{"name":"n6"},"mark":{"type":"line","color":"black","strokeWidth":1.1,"interpolate":"monotone"},
  "encoding":{"x":{"field":"a","type":"quantitative","scale":{"domain":[0,100],"nice":false},"axis":null},
   "y":{"field":"v","type":"quantitative","scale":{"type":"log","domain":[0.01,6.281e22],"nice":false},"axis":{"orient":"left","values":[0.01,0.1,1,10,100],"tickSize":-11,"labelPadding":76,"labelAlign":"left","labelExpr":"datum.value > 50 ? '10²' : datum.value > 5 ? '10¹' : datum.value > 0.5 ? '10⁰' : datum.value > 0.05 ? '10⁻¹' : '10⁻²'","title":null}}}},
 {"data":{"name":"s6"},"mark":{"type":"line","color":"black","strokeWidth":1.1,"strokeDash":[10,8],"interpolate":"monotone"},
  "encoding":{"x":{"field":"a","type":"quantitative","scale":{"domain":[0,100],"nice":false},"axis":null},
   "y":{"field":"v","type":"quantitative","scale":{"type":"log","domain":[0.01,6.281e22],"nice":false},"axis":{"orient":"left","values":[0.02,0.03,0.04,0.05,0.06,0.07,0.08,0.09,0.2,0.3,0.4,0.5,0.6,0.7,0.8,0.9,2,3,4,5,6,7,8,9,20,30,40,50,60,70,80,90],"tickSize":-5,"labels":false,"title":null}}}},
 {"data":{"name":"e6"},"mark":{"type":"errorbar","color":"#00ee00","ticks":{"size":10}},
  "encoding":{"x":{"field":"a","type":"quantitative","scale":{"domain":[0,100],"nice":false},"axis":null},
   "y":{"field":"lo","type":"quantitative","scale":{"type":"log","domain":[0.01,6.281e22],"nice":false},"axis":null},"y2":{"field":"hi"}}},
 {"data":{"name":"e6"},"mark":{"type":"point","filled":true,"opacity":1,"size":125,"strokeWidth":1},
  "encoding":{"x":{"field":"a","type":"quantitative","scale":{"domain":[0,100],"nice":false},"axis":null},
   "y":{"field":"v","type":"quantitative","scale":{"type":"log","domain":[0.01,6.281e22],"nice":false},"axis":{"orient":"right","values":[0.01,0.1,1,10,100],"tickSize":-11,"labels":false,"title":null}},
   "fill":{"datum":"Exp. data","type":"nominal"},
   "stroke":{"datum":"Exp. data","type":"nominal"},
   "shape":{"datum":"Exp. data","type":"nominal"},
   "strokeDash":{"datum":"Exp. data","type":"nominal"}}},
 {"data":{"name":"lab"},"transform":[{"filter":"datum.p == 6"}],"mark":{"type":"text","align":"left","baseline":"middle","font":"Liberation Sans","fontSize":27,"color":"black"},
  "encoding":{"x":{"field":"a","type":"quantitative","scale":{"domain":[0,100],"nice":false},"axis":null},
   "y":{"field":"v","type":"quantitative","scale":{"type":"log","domain":[0.01,6.281e22],"nice":false},"axis":{"orient":"right","values":[0.02,0.03,0.04,0.05,0.06,0.07,0.08,0.09,0.2,0.3,0.4,0.5,0.6,0.7,0.8,0.9,2,3,4,5,6,7,8,9,20,30,40,50,60,70,80,90],"tickSize":-5,"labels":false,"title":null}},
   "text":{"field":"t"}}}
],"resolve":{"axis":{"x":"independent","y":"independent"}}}
],
"resolve":{"scale":{"y":"independent"},"axis":{"x":"independent","y":"independent"}}
}
